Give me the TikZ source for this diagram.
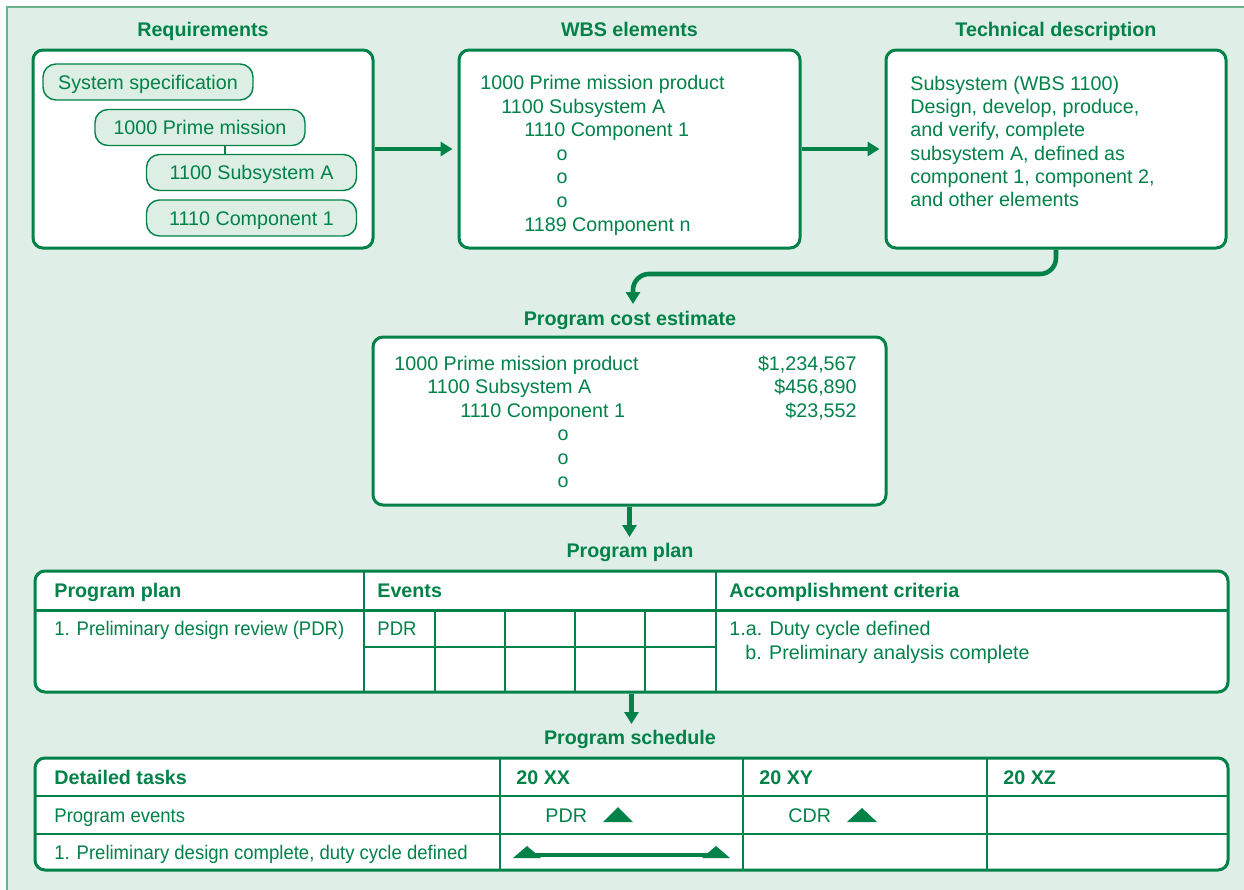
\documentclass[tikz,border=0pt]{standalone}
\usepackage{fontspec}
\setmainfont{Liberation Sans}
\newfontfamily\narrowfont[FakeStretch=0.94]{Liberation Sans}
\usetikzlibrary{arrows.meta}
\definecolor{gr}{RGB}{0,130,72}
\definecolor{bg}{RGB}{223,238,231}
\definecolor{frm}{RGB}{102,179,142}
\definecolor{pillfill}{RGB}{221,238,228}
\begin{document}
\begin{tikzpicture}[x=0.5pt,y=-0.5pt,
  font=\fontsize{9.85}{11.7}\selectfont,
  box/.style={draw=gr, line width=1.5pt, fill=white, rounded corners=5pt, inner sep=0},
  pill/.style={draw=gr, line width=0.7pt, fill=pillfill, rounded corners=6.5pt, minimum width=105pt, minimum height=18pt, inner sep=0, text=gr, text height=8pt, text depth=1pt},
  txt/.style={inner sep=0, anchor=base west, text=gr},
  ttl/.style={inner sep=0, anchor=base, text=gr, font=\fontsize{9.85}{11.7}\selectfont\bfseries},
  hdr/.style={txt, font=\fontsize{9.85}{11.7}\selectfont\bfseries},
  nar/.style={txt, font=\fontsize{9.85}{11.7}\selectfont\narrowfont},
  arr/.style={draw=gr, line width=2.3pt, -{Triangle[length=6pt,width=7pt]}},
  gridline/.style={draw=gr, line width=1.2pt},
  tri/.style={fill=gr}
]
\useasboundingbox (0,0) rectangle (1244,890);
\fill[white] (0,0) rectangle (1244,890);
\fill[bg] (7,7) rectangle (1244,890);
\draw[frm, line width=0.8pt] (1244,7) -- (7,7) -- (7,890);

% titles
\node[ttl] (treq) at (203,36) {Requirements};
\node[ttl] (twbs) at (629.5,36) {WBS elements};
\node[ttl] (ttech) at (1056,36) {Technical description};
\node[ttl] (tcost) at (630,325) {Program cost estimate};
\node[ttl] (tplan) at (630,557) {Program plan};
\node[ttl] (tsched) at (630,744) {Program schedule};

% top boxes
\node[box, minimum width=170pt, minimum height=99pt] (req) at (203,149) {};
\node[box, minimum width=170.5pt, minimum height=99pt] (wbs) at (629.5,149) {};
\node[box, minimum width=170pt, minimum height=99pt] (tech) at (1056,149) {};

% requirements pills
\node[pill] (spec) at (148,82) {System specification};
\node[pill] (prime) at (200,127.5) {1000 Prime mission};
\node[pill] (sub) at (251.5,172.5) {1100 Subsystem A};
\node[pill] (comp) at (251.5,218) {1110 Component 1};
\draw[gr, line width=1pt] ([xshift=12.5pt]prime.south) -- ([xshift=12.5pt]prime.south |- sub.north);

% WBS text
\node[txt] (w1) at (480,89.5) {1000 Prime mission product};
\node[txt] (w2) at (501,113) {1100 Subsystem A};
\node[txt] (w3) at (524,136.5) {1110 Component 1};
\node[txt, anchor=base] (w4) at (562,160) {o};
\node[txt, anchor=base] (w5) at (562,183.5) {o};
\node[txt, anchor=base] (w6) at (562,207) {o};
\node[txt] (w7) at (524,231) {1189 Component n};

% technical description text
\node[txt] (t1) at (910,90) {Subsystem (WBS 1100)};
\node[txt] (t2) at (910,113.3) {Design, develop, produce,};
\node[txt] (t3) at (910,136.6) {and verify, complete};
\node[txt] (t4) at (910,160) {subsystem A, defined as};
\node[txt] (t5) at (910,183.3) {component 1, component 2,};
\node[txt] (t6) at (910,206.6) {and other elements};

% arrows top
\draw[arr, shorten >=2.5pt] (req.east) -- (wbs.west);
\draw[arr, shorten >=2.5pt] (wbs.east) -- (tech.west);
\coordinate (turn) at (633,274);
\coordinate (ctip) at (633,304);
\draw[arr, rounded corners=8pt] (tech.south) |- (turn) -- (ctip);

% cost estimate
\node[box, minimum width=256.5pt, minimum height=84pt] (cost) at (629.5,421) {};
\node[txt] (c1) at (394,370) {1000 Prime mission product};
\node[txt] (c2) at (427,393.5) {1100 Subsystem A};
\node[txt] (c3) at (460,417) {1110 Component 1};
\node[txt, anchor=base] (c4) at (563,440.5) {o};
\node[txt, anchor=base] (c5) at (563,464) {o};
\node[txt, anchor=base] (c6) at (563,487.5) {o};
\node[txt, anchor=base east] (v1) at (857,370) {\$1,234,567};
\node[txt, anchor=base east] (v2) at (857,393.5) {\$456,890};
\node[txt, anchor=base east] (v3) at (857,417) {\$23,552};

\coordinate (ptip) at (629.5,537);
\draw[arr] (cost.south) -- (ptip);

% program plan table
\node[box, minimum width=596.5pt, minimum height=60.5pt] (plan) at (631.5,631.5) {};
\draw[gridline, line width=1.5pt] (35,610) -- (1228,610);
\draw[gridline] (364,571) -- (364,692);
\draw[gridline] (716,571) -- (716,692);
\draw[gridline] (364,647) -- (716,647);
\foreach \x in {435,505,575,645} \draw[gridline] (\x,610) -- (\x,692);
\node[hdr] (ph1) at (54,597) {Program plan};
\node[hdr] (ph2) at (377,597) {Events};
\node[hdr] (ph3) at (729,597) {Accomplishment criteria};
\node[nar] (pr1) at (54,635) {1. Preliminary design review (PDR)};
\node[nar] (pr2) at (377,635) {PDR};
\node[txt] (pr3) at (729,635) {1.a. Duty cycle defined};
\node[txt] (pr4) at (745,659) {b. Preliminary analysis complete};

\coordinate (stip) at (631.5,724);
\draw[arr] (plan.south) -- (stip);

% program schedule table
\node[box, minimum width=596.5pt, minimum height=56pt] (sched) at (631.5,814) {};
\draw[gridline] (35,796) -- (1228,796);
\draw[gridline] (35,834) -- (1228,834);
\foreach \x in {500,743,987} \draw[gridline] (\x,758) -- (\x,870);
\node[hdr] (sh1) at (54,784) {Detailed tasks};
\node[hdr] (sh2) at (516,784) {20 XX};
\node[hdr] (sh3) at (759,784) {20 XY};
\node[hdr] (sh4) at (1003,784) {20 XZ};
\node[nar] (sr1) at (54,822) {Program events};
\node[txt] (sr2) at (545,822) {PDR};
\node[txt] (sr3) at (788,822) {CDR};
\node[nar] (sr4) at (54,859) {1. Preliminary design complete, duty cycle defined};
\fill[tri] (603,822) -- (633,822) -- (618,807) -- cycle;
\fill[tri] (847,822) -- (877,822) -- (862,808) -- cycle;
\draw[gr, line width=2pt] (527,855) -- (716,855);
\fill[tri] (513,858) -- (541,858) -- (527,846) -- cycle;
\fill[tri] (702,858) -- (730,858) -- (716,846) -- cycle;
\end{tikzpicture}
\end{document}
